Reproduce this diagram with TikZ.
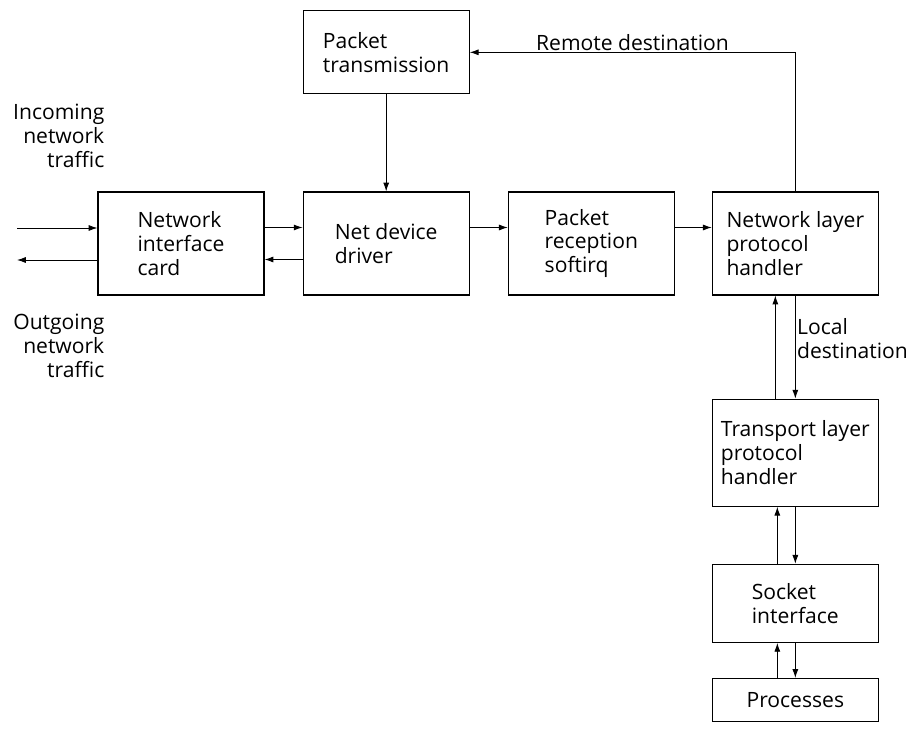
\documentclass[tikz,border=0pt]{standalone}
\usepackage{fontspec}
\setmainfont{Open Sans}
\usetikzlibrary{arrows.meta,positioning,calc}

\begin{document}
\begin{tikzpicture}[
    x=0.025cm, y=-0.025cm,
    box/.style={draw, line width=0.8pt, minimum width=4.15cm, minimum height=2.575cm, inner sep=0pt, align=left, font=\fontsize{15}{17}\selectfont},
    lbl/.style={font=\fontsize{15}{17}\selectfont, inner sep=1pt},
    arr/.style={-{Latex[length=2.2mm, width=1.5mm]}, line width=0.6pt},
    node distance=0.95cm,
]
\useasboundingbox (0,0) rectangle (915,729);

\node[box] (nic) at (181,243.5) {Network\\interface\\card};
\node[box, right=of nic] (ndd) {Net device\\driver};
\node[box, right=of ndd] (prs) {Packet\\reception\\softirq};
\node[box, right=0.92cm of prs] (nlph) {Network layer\\protocol\\handler};

\node[box, minimum height=2.075cm, above=2.425cm of ndd] (pkt) {Packet\\transmission};

\node[box, minimum height=2.675cm, below=2.575cm of nlph] (tlph) {Transport layer\\protocol\\handler};
\node[box, minimum height=1.95cm, below=1.425cm of tlph] (sock) {Socket\\interface};
\node[box, minimum height=1.075cm, below=0.875cm of sock] (proc) {Processes};

\node[lbl, anchor=east, align=right] (intxt) at (106,136) {Incoming\\network\\traffic};
\node[lbl, anchor=east, align=right] (outtxt) at (106,346) {Outgoing\\network\\traffic};

\coordinate (inL) at (17,228);
\coordinate (outL) at (17,260);

\draw[arr] (inL) -- (inL -| nic.west);
\draw[arr] (outL -| nic.west) -- (outL);
\draw[arr] ([yshift=4mm]nic.east) -- ([yshift=4mm]ndd.west);
\draw[arr] ([yshift=-4mm]ndd.west) -- ([yshift=-4mm]nic.east);
\draw[arr] ([yshift=4mm]ndd.east) -- ([yshift=4mm]prs.west);
\draw[arr] ([yshift=4mm]prs.east) -- ([yshift=4mm]nlph.west);
\draw[arr] (pkt) -- (ndd);
\draw[arr] (nlph.north) |- (pkt.east) node[lbl, above, pos=0.75] {Remote destination};
\draw[arr] ([xshift=-5mm]tlph.north) -- ([xshift=-5mm]nlph.south);
\draw[arr] (nlph.south) -- (tlph.north) node[lbl, right, align=left, pos=0.42] {Local\\destination};
\draw[arr] ([xshift=-4.5mm]sock.north) -- ([xshift=-4.5mm]tlph.south);
\draw[arr] (tlph.south) -- (sock.north);
\draw[arr] ([xshift=-4.5mm]proc.north) -- ([xshift=-4.5mm]sock.south);
\draw[arr] (sock.south) -- (proc.north);
\end{tikzpicture}
\end{document}
